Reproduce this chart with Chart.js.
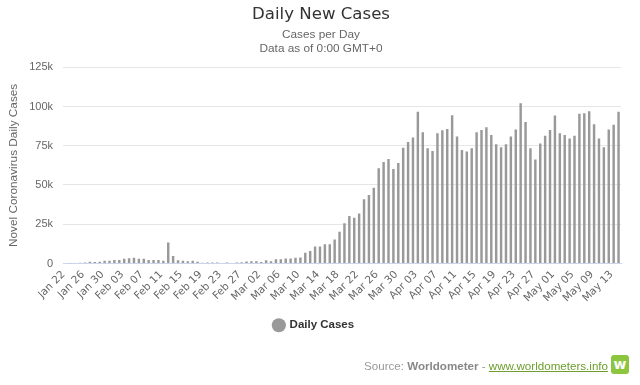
<!DOCTYPE html>
<html>
<head>
<meta charset="utf-8">
<script src="https://cdn.jsdelivr.net/npm/chart.js@4.4.1/dist/chart.umd.min.js"></script>
<style>
  html, body { margin: 0; padding: 0; background: #fff; }
  #wrap { position: relative; width: 640px; height: 385px; }
  #credits {
    position: absolute; right: 32px; top: 359px;
    font: 11.6px "Liberation Sans", Arial, sans-serif; color: #999;
    white-space: nowrap;
  }
  #credits b { color: #888; }
  #credits a { color: #6d9e2e; text-decoration: underline; }
  #logo {
    position: absolute; left: 611px; top: 355px; width: 18px; height: 19px;
    background: #8cc63f; border-radius: 3px; color: #fff;
    font: bold 14px "DejaVu Sans", sans-serif; text-align: center; line-height: 19px;
  }
</style>
</head>
<body>
<div id="wrap">
  <canvas id="chart" width="640" height="385"></canvas>
  <div id="credits">Source: <b>Worldometer</b> - <a>www.worldometers.info</a></div>
  <div id="logo">w</div>
</div>
<script>
// Daily new cases, Jan 22 - May 14
const monthDays = [['Jan', 22, 31], ['Feb', 1, 29], ['Mar', 1, 31], ['Apr', 1, 30], ['May', 1, 14]];
const categories = [];
monthDays.forEach(([m, from, to]) => {
    for (let d = from; d <= to; d++) categories.push(m + ' ' + String(d).padStart(2, '0'));
});

const janCases = [0, 100, 290, 490, 680, 1100, 1000, 1100, 1700, 1700];
const febCases = [2300, 2300, 3000, 3400, 3600, 3000, 3000, 2300, 2300, 2300,
    1700, 13300, 4700, 2000, 1700, 1500, 1700, 1100, 400, 600,
    600, 600, 250, 600, 300, 600, 800, 1300, 1400];
const marCases = [1400, 900, 2100, 1500, 2700, 2700, 3200, 3200, 3600, 3900,
    6800, 7900, 10900, 10900, 12300, 12300, 15300, 20200, 25700, 30200,
    29100, 31900, 41000, 43600, 48300, 60600, 64700, 66600, 60200, 64000, 73800];
const aprCases = [77400, 80200, 96600, 83600, 73400, 71700, 83000, 84900, 85700, 94500,
    80900, 72300, 71300, 73400, 83600, 85100, 86800, 81900, 76000, 74000,
    76000, 80900, 85300, 102100, 90200, 73400, 66200, 76400, 81300, 85100];
const mayCases = [94300, 83000, 81900, 79600, 81300, 95300, 95700, 97000, 88700, 79600,
    74000, 85300, 88300, 96600];
const dailyCases = [].concat(janCases, febCases, marCases, aprCases, mayCases);

const yTicks = [0, 25000, 50000, 75000, 100000, 125000];
const tickLabels = ['0', '25k', '50k', '75k', '100k', '125k'];

const grey = '#666666';
const sans = 'Liberation Sans';

// title and subtitle are centred on the whole page, not on the padded area
const centerTitles = {
    id: 'centerTitles',
    afterLayout(chart) {
        chart.boxes.forEach(b => {
            if (b.position === 'top' && b.options && 'text' in b.options) {
                b.left += 7;
                b.right += 7;
            }
        });
    }
};

new Chart(document.getElementById('chart'), {
    type: 'bar',
    data: {
        labels: categories,
        datasets: [{
            label: 'Daily Cases',
            data: dailyCases,
            backgroundColor: '#999999',
            borderWidth: 0,
            categoryPercentage: 1,
            barPercentage: 0.5
        }]
    },
    plugins: [centerTitles],
    options: {
        responsive: false,
        animation: false,
        layout: { padding: { left: 7, right: 19, top: 0, bottom: 44 } },
        plugins: {
            title: {
                display: true,
                text: 'Daily New Cases',
                color: '#333333',
                font: { family: 'DejaVu Sans', size: 16.6, weight: 'normal' },
                padding: { top: 5, bottom: 3 }
            },
            subtitle: {
                display: true,
                text: ['Cases per Day', 'Data as of 0:00 GMT+0'],
                color: grey,
                font: { family: sans, size: 11.8, lineHeight: 1.2 },
                padding: { top: 0, bottom: 11 }
            },
            legend: {
                position: 'bottom',
                labels: {
                    usePointStyle: true,
                    pointStyle: 'circle',
                    boxWidth: 10,
                    boxHeight: 10,
                    color: '#333333',
                    font: { family: sans, size: 11.5, weight: 'bold' },
                    padding: 10
                }
            },
            tooltip: { enabled: false }
        },
        scales: {
            x: {
                grid: { display: false, drawTicks: false },
                border: { color: '#ccd6eb' },
                afterFit: s => { s.height = 46; },
                ticks: {
                    autoSkip: false,
                    maxRotation: 45,
                    minRotation: 45,
                    padding: 5,
                    labelOffset: -2,
                    color: grey,
                    font: { family: 'DejaVu Sans', size: 10.5 },
                    callback: (v, i) => (i % 4 === 0 ? categories[i] : '')
                }
            },
            y: {
                min: 0,
                max: 125000,
                afterBuildTicks: s => { s.ticks = yTicks.map(v => ({ value: v })); },
                afterFit: s => { s.width = 56; },
                grid: { color: '#e6e6e6', drawTicks: false },
                border: { display: false },
                title: {
                    display: true,
                    text: 'Novel Coronavirus Daily Cases',
                    color: grey,
                    font: { family: sans, size: 11.8 },
                    padding: { top: 0, bottom: 5 }
                },
                ticks: {
                    padding: 10,
                    color: grey,
                    font: { family: sans, size: 11 },
                    callback: v => tickLabels[yTicks.indexOf(v)]
                }
            }
        }
    }
});
</script>
</body>
</html>
